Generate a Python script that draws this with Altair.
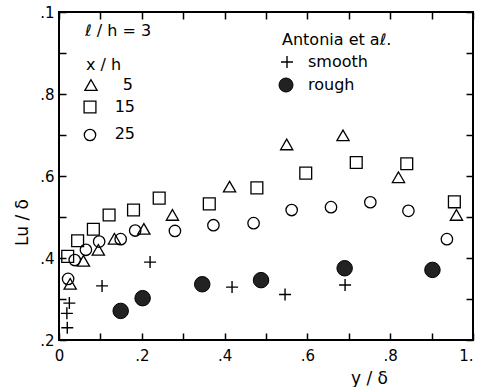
import altair as alt
import pandas as pd

# ---------------- data ----------------
# x/h = 5 (open triangles)
tri_x = [0.027, 0.059, 0.095, 0.134, 0.205, 0.274, 0.412, 0.550, 0.686, 0.820, 0.960]
tri_y = [0.337, 0.393, 0.420, 0.447, 0.471, 0.505, 0.574, 0.677, 0.699, 0.597, 0.505]
# x/h = 15 (open squares)
sq_x = [0.021, 0.045, 0.083, 0.121, 0.180, 0.242, 0.363, 0.478, 0.596, 0.718, 0.840, 0.955]
sq_y = [0.404, 0.442, 0.470, 0.505, 0.517, 0.546, 0.532, 0.571, 0.607, 0.633, 0.630, 0.537]
# x/h = 25 (open circles)
ci_x = [0.022, 0.038, 0.065, 0.097, 0.149, 0.184, 0.280, 0.373, 0.470, 0.562, 0.657, 0.752, 0.844, 0.937]
ci_y = [0.349, 0.395, 0.420, 0.440, 0.446, 0.467, 0.466, 0.480, 0.485, 0.517, 0.524, 0.536, 0.515, 0.446]
# Antonia et al. smooth (+)
sm_x = [0.020, 0.019, 0.025, 0.104, 0.220, 0.418, 0.546, 0.691]
sm_y = [0.230, 0.265, 0.290, 0.332, 0.390, 0.329, 0.311, 0.334]
# Antonia et al. rough (filled circles)
ro_x = [0.149, 0.202, 0.346, 0.488, 0.690, 0.902]
ro_y = [0.271, 0.302, 0.336, 0.346, 0.375, 0.371]

X_TICKS = [0.0, 0.1, 0.2, 0.3, 0.4, 0.5, 0.6, 0.7, 0.8, 0.9, 1.0]
Y_TICKS = [0.2, 0.3, 0.4, 0.5, 0.6, 0.7, 0.8, 0.9, 1.0]

X_TITLE = "y / δ"
Y_TITLE = "Lu / δ"
LEGEND_TEXTS = ["ℓ / h = 3", "x / h", "5", "15", "25", "Antonia et aℓ.", "smooth", "rough"]

# ---------------- styling ----------------
FONT = "DejaVu Sans"
TICK = 7
PLUS = "M-1,0L1,0M0,-1L0,1"

xscale = alt.Scale(domain=[0, 1], nice=False, zero=False)
yscale = alt.Scale(domain=[0.2, 1.0], nice=False, zero=False)

x_label_expr = ("datum.value < 0.001 ? '0' : datum.value > 0.999 ? '1.' : "
                "(round(datum.value*10) % 2 == 0 ? replace(format(datum.value, '.1f'), '0.', '.') : '')")
y_label_expr = ("datum.value > 0.999 ? '.1' : "
                "(round(datum.value*10) % 2 == 0 ? replace(format(datum.value, '.1f'), '0.', '.') : '')")

common_tick = dict(offset=-TICK, tickSize=TICK, tickColor="black", tickWidth=1.5,
                   domain=False, grid=False)

x_axis_main = alt.Axis(orient="bottom", values=X_TICKS, labelExpr=x_label_expr,
                       labelAlign={"expr": "datum.value > 0.999 ? 'right' : 'center'"},
                       labelFont=FONT, labelFontSize=15, labelColor="black",
                       labelPadding=8, labelFlush=False, labelOverlap=False,
                       title=X_TITLE, titleFont=FONT, titleFontSize=17,
                       titleFontWeight="normal", titleColor="black",
                       titleX=310, titleY=45, titleAlign="center",
                       titleBaseline="middle", **common_tick)
y_axis_main = alt.Axis(orient="left", values=Y_TICKS, labelExpr=y_label_expr,
                       labelFont=FONT, labelFontSize=15, labelColor="black",
                       labelPadding=5, labelFlush=False, labelOverlap=False,
                       title=Y_TITLE, titleFont=FONT, titleFontSize=17,
                       titleFontWeight="normal", titleColor="black",
                       titleAngle=270, titleX=-44, titleY=210,
                       titleAlign="center", titleBaseline="middle", **common_tick)
x_axis_top = alt.Axis(orient="top", values=X_TICKS, labels=False, title=None, **common_tick)
y_axis_right = alt.Axis(orient="right", values=Y_TICKS, labels=False, title=None, **common_tick)


def df(xs, ys):
    return pd.DataFrame({"x": xs, "y": ys})


def pts(xs, ys, shape, size, filled=False, fill=None, xaxis=None, yaxis=None, sw=1.3):
    kw = dict(shape=shape, size=size, stroke="black", strokeWidth=sw, opacity=1)
    if filled:
        kw.update(filled=True, fill=fill)
    else:
        kw.update(filled=False)
    return alt.Chart(df(xs, ys)).mark_point(**kw).encode(
        x=alt.X("x:Q", scale=xscale, axis=xaxis),
        y=alt.Y("y:Q", scale=yscale, axis=yaxis),
    )


tri = pts(tri_x, tri_y, "triangle-up", 150, xaxis=x_axis_main, yaxis=y_axis_main)
sq = pts(sq_x, sq_y, "square", 140, xaxis=x_axis_top, yaxis=y_axis_right)
ci = pts(ci_x, ci_y, "circle", 130)
sm = pts(sm_x, sm_y, PLUS, 144, sw=1.4)
ro = pts(ro_x, ro_y, "circle", 240, filled=True, fill="#222222", sw=1)

dummy = pd.DataFrame({"d": [0]})


def label(txt, x, y, align="left", size=16):
    return alt.Chart(dummy).mark_text(text=txt, align=align, baseline="middle",
                                      font=FONT, fontSize=size, color="black").encode(
        x=alt.value(x), y=alt.value(y))


def sym(shape, x, y, size, filled=False, fill=None, sw=1.3):
    kw = dict(shape=shape, size=size, stroke="black", strokeWidth=sw, opacity=1)
    if filled:
        kw.update(filled=True, fill=fill)
    else:
        kw.update(filled=False)
    return alt.Chart(dummy).mark_point(**kw).encode(x=alt.value(x), y=alt.value(y))


legend = [
    label(LEGEND_TEXTS[0], 26, 19),
    label(LEGEND_TEXTS[1], 27, 53),
    sym("triangle-up", 32, 73, 150),
    label(LEGEND_TEXTS[2], 74, 73, align="right"),
    sym("square", 31, 95, 140),
    label(LEGEND_TEXTS[3], 76, 95, align="right"),
    sym("circle", 31, 123, 130),
    label(LEGEND_TEXTS[4], 76, 122, align="right"),
    label(LEGEND_TEXTS[5], 223, 28),
    sym(PLUS, 228, 50, 144, sw=1.4),
    label(LEGEND_TEXTS[6], 249, 50),
    sym("circle", 227, 73, 196, filled=True, fill="#222222", sw=1),
    label(LEGEND_TEXTS[7], 249, 73),
]

chart = alt.layer(tri, sq, ci, sm, ro, *legend).resolve_axis(
    x="independent", y="independent"
).properties(
    width=414, height=328,
    padding={"left": 59, "top": 12, "right": 6, "bottom": 47},
    autosize=alt.AutoSizeParams(type="none"),
    background="white",
).configure_view(stroke="black", strokeWidth=2)

chart.save("out.html", embed_options={"renderer": "svg", "actions": False})
